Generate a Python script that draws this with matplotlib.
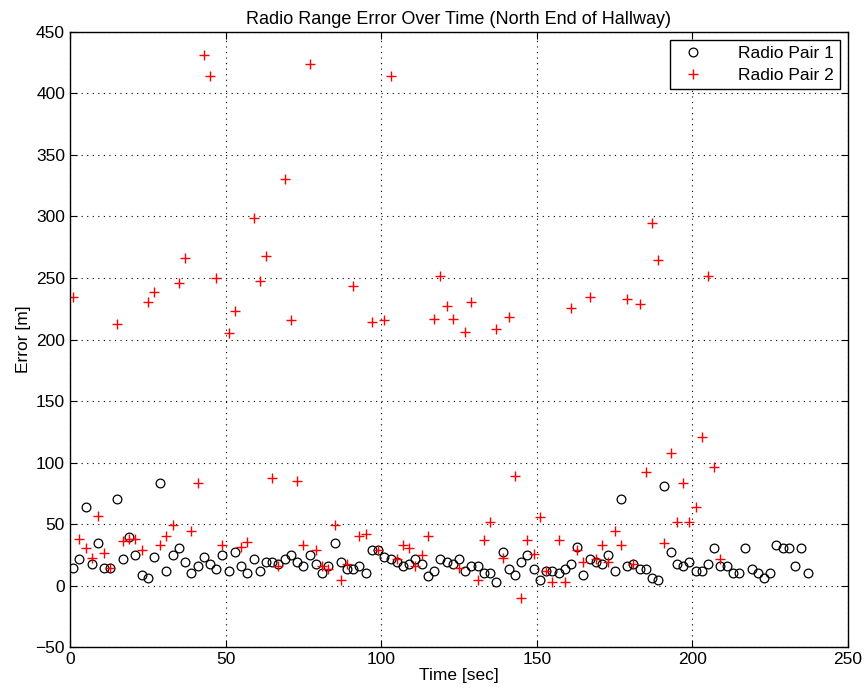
import matplotlib.pyplot as plt
import numpy as np

plt.rcParams['font.family'] = ['Liberation Sans', 'DejaVu Sans']

# Radio Pair 1 (circles), one sample every 2 sec starting at t=1
pair1_time = list(range(1, 238, 2))
pair1_error = [
    14.0, 21.3, 64.1, 17.5, 34.3, 14.0, 14.0, 70.1, 21.3, 39.7,
    24.8, 8.3, 6.3, 23.2, 83.1, 12.0, 24.8, 30.7, 19.4, 9.9,
    15.9, 23.2, 17.5, 13.7, 24.8, 11.8, 27.0, 15.6, 9.9, 21.3,
    11.8, 19.4, 19.4, 17.5, 21.3, 24.8, 19.4, 15.6, 24.8, 17.5,
    9.9, 15.6, 34.3, 19.4, 13.7, 13.7, 15.6, 9.9, 28.9, 28.9,
    23.2, 21.3, 19.4, 15.6, 17.5, 21.3, 17.5, 8.0, 11.8, 21.3,
    19.4, 17.5, 21.3, 11.8, 15.6, 15.6, 9.9, 9.9, 2.6, 27.0,
    13.7, 8.3, 19.4, 24.8, 13.7, 4.5, 11.8, 11.8, 9.9, 13.7,
    17.5, 31.1, 8.3, 21.3, 19.4, 17.5, 24.8, 11.8, 70.1, 15.6,
    17.5, 13.7, 13.7, 6.3, 4.5, 80.9, 27.0, 17.5, 15.6, 19.4,
    11.8, 11.8, 17.5, 30.7, 15.6, 15.6, 9.9, 9.9, 30.7, 13.7,
    9.9, 6.3, 9.9, 32.7, 30.7, 30.7, 15.6, 30.7, 9.9,
]

# Radio Pair 2 (crosses)
pair2_time = list(range(1, 210, 2))
pair2_error = [
    234.8, 38.1, 30.7, 22.1, 56.8, 26.7, 14.0, 212.4, 36.4, 38.0,
    38.1, 28.9, 230.7, 238.6, 32.7, 40.0, 49.4, 245.7, 266.5, 44.3,
    83.1, 431.3, 414.5, 249.7, 32.7, 205.0, 223.4, 31.1, 35.1, 298.5,
    247.8, 268.1, 87.1, 15.6, 330.2, 215.9, 85.2, 32.7, 423.7, 28.9,
    15.6, 13.7, 49.4, 4.5, 17.5, 243.7, 40.0, 41.9, 214.0, 28.9,
    215.9, 414.5, 21.3, 32.7, 30.7, 15.6, 24.8, 40.0, 216.4, 251.6,
    227.5, 216.4, 14.2, 206.3, 230.7, 4.5, 37.0, 51.6, 208.3, 22.1,
    218.0, 89.0, -10.4, 37.0, 25.4, 55.4, 11.8, 2.6, 37.0, 2.6,
    225.4, 28.9, 19.4, 234.8, 21.3, 32.7, 19.4, 44.3, 32.7, 232.9,
    17.5, 228.9, 92.5, 294.5, 264.6, 34.3, 107.5, 51.6, 83.1, 51.6,
    64.1, 120.7, 251.6, 96.1, 21.5,
]

fig = plt.figure(figsize=(8.64, 6.95), dpi=100)
ax = fig.add_axes([0.081, 0.069, 0.9005, 0.885])

ax.plot(pair1_time, pair1_error, linestyle='none', marker='o', markersize=6.3,
        markerfacecolor='none', markeredgecolor='black', markeredgewidth=0.9,
        label='Radio Pair 1')
ax.plot(pair2_time, pair2_error, linestyle='none', marker='+', markersize=7,
        color='red', markeredgewidth=1.0, label='Radio Pair 2')

ax.set_xlim(0, 250)
ax.set_ylim(-50, 450)
ax.set_xticks(np.arange(0, 251, 50))
ax.set_yticks(np.arange(-50, 451, 50))

ax.grid(True, linestyle=(0, (1, 4)), color='black', linewidth=0.8)
ax.tick_params(direction='in', top=True, right=True, length=5, labelsize=12.5)
for spine in ax.spines.values():
    spine.set_linewidth(1.0)

ax.set_xlabel('Time [sec]', fontsize=12.5, labelpad=1)
ax.set_ylabel('Error [m]', fontsize=12.5, labelpad=3)
ax.set_title('Radio Range Error Over Time (North End of Hallway)', fontsize=13, pad=6)

leg = ax.legend(loc='upper right', fontsize=12.5, fancybox=False, framealpha=1,
                edgecolor='black', borderaxespad=0.45, handletextpad=1.6,
                labelspacing=0.4, borderpad=0.35)
leg.get_frame().set_linewidth(1.0)

plt.savefig('out.png', dpi=100)
